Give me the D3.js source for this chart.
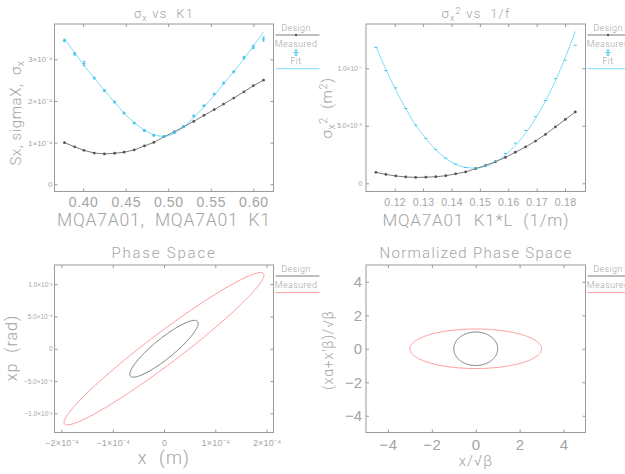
<!DOCTYPE html>
<html lang="en"><head>
<meta charset="utf-8"/>
<title>Quadrupole scan</title>
<script src="https://d3js.org/d3.v7.min.js"></script>
<style>
    body { margin: 0; padding: 0; width: 625px; height: 474px; background: #fff;
        font-family: Roboto, 'DejaVu Sans', sans-serif; }
    text { fill: #a4a4a4; font-weight: 300; }
    .tick line { stroke: #999; }
</style>
</head>
<body>
<div id="chart"></div>
<script>
    // ---- data ----
    // quadrupole strength scan (top panels)
    const k1 = [0.378, 0.390, 0.401, 0.413, 0.425, 0.437, 0.448, 0.460, 0.472, 0.483, 0.495,
                0.507, 0.518, 0.530, 0.542, 0.554, 0.565, 0.577, 0.589, 0.600, 0.612];
    const k1L = [0.1134, 0.1169, 0.1204, 0.1239, 0.1274, 0.1310, 0.1345, 0.1380, 0.1415, 0.1450, 0.1485,
                 0.1520, 0.1555, 0.1590, 0.1625, 0.1661, 0.1696, 0.1731, 0.1766, 0.1801, 0.1836];
    // sigma_x in units of 1e-4 m
    const sigDesign = [1.00, 0.90, 0.815, 0.75, 0.73, 0.745, 0.77, 0.825, 0.92, 1.005, 1.14,
                       1.26, 1.38, 1.51, 1.655, 1.79, 1.925, 2.07, 2.22, 2.365, 2.50];
    const sigMeasured = [3.45, 3.13, 2.90, 2.55, 2.25, 1.975, 1.71, 1.47, 1.29, 1.175, 1.145,
                         1.245, 1.385, 1.64, 1.885, 2.165, 2.43, 2.70, 3.04, 3.295, 3.485];
    const sigError = [0.03, 0.03, 0.05, 0.02, 0.02, 0.02, 0.02, 0.02, 0.02, 0.02, 0.02,
                      0.02, 0.02, 0.02, 0.02, 0.02, 0.02, 0.02, 0.03, 0.04, 0.05];
    const sigFit = [3.49, 3.16, 2.85, 2.55, 2.25, 1.97, 1.71, 1.48, 1.30, 1.19, 1.15,
                    1.22, 1.37, 1.60, 1.86, 2.13, 2.41, 2.70, 3.01, 3.32, 3.66];
    // sigma_x^2 in units of 1e-8 m^2
    const sig2Design = [0.95, 0.77, 0.64, 0.55, 0.51, 0.53, 0.57, 0.66, 0.82, 0.99, 1.27,
                        1.55, 1.88, 2.25, 2.70, 3.16, 3.67, 4.25, 4.90, 5.55, 6.20];
    const sig2Measured = [11.8, 9.8, 8.3, 6.5, 5.05, 3.9, 2.95, 2.2, 1.67, 1.38, 1.31,
                          1.55, 1.9, 2.6, 3.5, 4.6, 5.8, 7.2, 9.1, 10.7, 12.0];
    const sig2Fit = [11.9, 9.9, 8.1, 6.5, 5.05, 3.9, 2.9, 2.15, 1.65, 1.38, 1.32,
                     1.48, 1.85, 2.45, 3.3, 4.35, 5.65, 7.15, 8.9, 10.95, 13.2];

    // phase space ellipses: design, measured
    const emittance = [1.31e-8, 5.85e-8];
    const betaTwiss = [0.339, 0.65];
    const alphaTwiss = [-2.0, -3.8];
    // normalized phase space semi axes
    const normSemiX = [1.0, 3.0];
    const normSemiY = [1.0, 1.18];

    // tick values and labels
    const tlXTicks = [0.40, 0.45, 0.50, 0.55, 0.60];
    const tlXLabels = ["0.40", "0.45", "0.50", "0.55", "0.60"];
    const tlYTicks = [0, 1e-4, 2e-4, 3e-4];
    const tlYLabels = ["0", "1×10⁻⁴", "2×10⁻⁴", "3×10⁻⁴"];
    const trXTicks = [0.12, 0.13, 0.14, 0.15, 0.16, 0.17, 0.18];
    const trXLabels = ["0.12", "0.13", "0.14", "0.15", "0.16", "0.17", "0.18"];
    const trYTicks = [0, 5e-8, 1e-7];
    const trYLabels = ["0", "5.0×10⁻⁸", "1.0×10⁻⁷"];
    const blXTicks = [-2e-4, -1e-4, 0, 1e-4, 2e-4];
    const blXLabels = ["−2×10⁻⁴", "−1×10⁻⁴", "0", "1×10⁻⁴", "2×10⁻⁴"];
    const blYTicks = [-1e-3, -5e-4, 0, 5e-4, 1e-3];
    const blYLabels = ["−1.0×10⁻³", "−5.0×10⁻⁴", "0", "5.0×10⁻⁴", "1.0×10⁻³"];
    const brTicks = [-4, -2, 0, 2, 4];
    const brLabels = ["−4", "−2", "0", "2", "4"];

    // ---- colours ----
    const FRAME = "#9a9a9a";
    const CYAN = "#7ddcfa";
    const CYAN_PT = "#3fc3ee";
    const DESIGN = "#7c7c7c";
    const DESIGN_PT = "#555";
    const RED = "#ff9d9d";

    const svg = d3.select("#chart").append("svg")
        .attr("width", 625).attr("height", 474);

    // text with sub/superscript parts: [string, shift(px, + is down), scale]
    function rich(x, y, parts, o) {
        const t = svg.append("text")
            .attr("x", x).attr("y", y)
            .attr("text-anchor", o.anchor || "middle")
            .style("font-size", o.size + "px")
            .style("letter-spacing", (o.ls || 0) + "px");
        if (o.rotate) t.attr("transform", `rotate(-90,${x},${y})`);
        let cur = 0;
        parts.forEach(p => {
            const sp = t.append("tspan").text(p[0]);
            const shift = p[1] || 0;
            if (shift !== cur) sp.attr("dy", shift - cur);
            if (p[2]) sp.style("font-size", (o.size * p[2]) + "px");
            cur = shift;
        });
        return t;
    }

    function panel(box, xDom, yDom, ax) {
        const x = d3.scaleLinear().domain(xDom).range([box.l, box.r]);
        const y = d3.scaleLinear().domain(yDom).range([box.b, box.t]);

        svg.append("rect")
            .attr("x", box.l).attr("y", box.t)
            .attr("width", box.r - box.l).attr("height", box.b - box.t)
            .attr("fill", "none").attr("stroke", FRAME);

        // bottom with labels
        const gb = svg.append("g").attr("transform", `translate(0,${box.b})`)
            .call(d3.axisBottom(x).tickValues(ax.xt).tickFormat((d, i) => ax.xl[i])
                .tickSizeInner(-3).tickSizeOuter(0));
        gb.select(".domain").remove();
        gb.selectAll("text").attr("y", ax.xBase).attr("dy", null)
            .attr("fill", null).style("font-size", ax.xFs + "px")
            .style("letter-spacing", (ax.xLs || 0) + "px");
        // top ticks
        const gt = svg.append("g").attr("transform", `translate(0,${box.t})`)
            .call(d3.axisTop(x).tickValues(ax.xt).tickFormat("").tickSizeInner(-3).tickSizeOuter(0));
        gt.select(".domain").remove();
        // left with labels
        const gl = svg.append("g").attr("transform", `translate(${box.l},0)`)
            .call(d3.axisLeft(y).tickValues(ax.yt).tickFormat((d, i) => ax.yl[i])
                .tickSizeInner(-3).tickSizeOuter(0));
        gl.select(".domain").remove();
        gl.selectAll("text").attr("x", -ax.yPad).attr("fill", null)
            .style("font-size", ax.yFs + "px");
        // right ticks
        const gr = svg.append("g").attr("transform", `translate(${box.r},0)`)
            .call(d3.axisRight(y).tickValues(ax.yt).tickFormat("").tickSizeInner(-3).tickSizeOuter(0));
        gr.select(".domain").remove();
        svg.selectAll(".tick line").attr("stroke", FRAME);
        return { x, y };
    }

    function legend(box, items) {
        const x0 = box.r + 2, x1 = box.r + 46, cx = box.r + 22.5;
        items.forEach((it, i) => {
            const top = box.t + i * 16.6;
            svg.append("text").attr("x", cx).attr("y", top + 6.5)
                .attr("text-anchor", "middle").style("font-size", "9px")
                .style("letter-spacing", "0.4px").text(it.label);
            const sy = top + 11;
            if (it.line) {
                svg.append("line").attr("x1", x0).attr("x2", x1)
                    .attr("y1", it.fit ? sy + 0.5 : sy).attr("y2", it.fit ? sy + 0.5 : sy)
                    .attr("stroke", it.line).attr("stroke-width", 1);
            }
            if (it.dot) {
                svg.append("circle").attr("cx", cx).attr("cy", sy).attr("r", 1.2).attr("fill", it.dot);
            }
            if (it.cross) {
                svg.append("path").attr("d", `M${cx - 2.5},${sy + 1}h5M${cx},${sy - 1.5}v5M${cx - 1.5},${sy - 1.5}h3M${cx - 1.5},${sy + 3.5}h3`)
                    .attr("stroke", it.cross).attr("fill", "none");
            }
        });
    }

    // ---- top left: sigma_x vs K1 ----
    const boxTL = { l: 54.5, r: 273.5, t: 24, b: 191.5 };
    const tl = panel(boxTL, [0.3663, 0.6237], [-0.173e-4, 3.847e-4],
        { xt: tlXTicks, xl: tlXLabels, xBase: 15, xFs: 14, xLs: 0.6,
          yt: tlYTicks, yl: tlYLabels, yFs: 8, yPad: 2 });
    const lineTL = d3.line().x(d => tl.x(d[0])).y(d => tl.y(d[1] * 1e-4));
    svg.append("path").datum(k1.map((k, i) => [k, sigFit[i]]))
        .attr("d", lineTL.curve(d3.curveMonotoneX)).attr("fill", "none").attr("stroke", CYAN);
    svg.append("path").datum(k1.map((k, i) => [k, sigDesign[i]]))
        .attr("d", lineTL.curve(d3.curveLinear)).attr("fill", "none").attr("stroke", DESIGN);
    svg.selectAll(".dtl").data(k1).enter().append("circle")
        .attr("cx", d => tl.x(d)).attr("cy", (d, i) => tl.y(sigDesign[i] * 1e-4))
        .attr("r", 1.4).attr("fill", DESIGN_PT);
    svg.selectAll(".mtl").data(k1).enter().append("path")
        .attr("d", (d, i) => {
            const cx = tl.x(d), cy = tl.y(sigMeasured[i] * 1e-4);
            const lo = tl.y((sigMeasured[i] - sigError[i]) * 1e-4), hi = tl.y((sigMeasured[i] + sigError[i]) * 1e-4);
            return `M${cx - 1.5},${cy}h3M${cx},${hi}V${lo}M${cx - 1.2},${hi}h2.4M${cx - 1.2},${lo}h2.4`;
        })
        .attr("stroke", CYAN_PT).attr("fill", "none");

    rich(164, 18, [["σ", 0], ["x", 3, 0.7], ["\u00a0vs\u00a0\u00a0K1", 0]], { size: 13, ls: 1.2 });
    rich(164, 226, [["MQA7A01,\u00a0\u00a0MQA7A01\u00a0\u00a0K1", 0]], { size: 17.5, ls: 0.8 });
    rich(21, 113, [["Sx,\u00a0sigmaX,\u00a0\u00a0σ", 0], ["x", 3, 0.7]], { size: 15, ls: 0.6, rotate: true });
    legend(boxTL, [
        { label: "Design", line: DESIGN, dot: DESIGN_PT },
        { label: "Measured", cross: CYAN_PT },
        { label: "Fit", line: CYAN, fit: true }
    ]);

    // ---- top right: sigma_x^2 vs 1/f ----
    const boxTR = { l: 366, r: 585.5, t: 24, b: 191.5 };
    const tr = panel(boxTR, [0.1099, 0.1872], [-0.713e-8, 1.385e-7],
        { xt: trXTicks, xl: trXLabels, xBase: 14, xFs: 10.5, xLs: 0.3,
          yt: trYTicks, yl: trYLabels, yFs: 6.5, yPad: 4 });
    const lineTR = d3.line().x(d => tr.x(d[0])).y(d => tr.y(d[1] * 1e-8));
    svg.append("path").datum(k1L.map((k, i) => [k, sig2Fit[i]]))
        .attr("d", lineTR.curve(d3.curveMonotoneX)).attr("fill", "none").attr("stroke", CYAN);
    svg.append("path").datum(k1L.map((k, i) => [k, sig2Design[i]]))
        .attr("d", lineTR.curve(d3.curveLinear)).attr("fill", "none").attr("stroke", DESIGN);
    svg.selectAll(".dtr").data(k1L).enter().append("circle")
        .attr("cx", d => tr.x(d)).attr("cy", (d, i) => tr.y(sig2Design[i] * 1e-8))
        .attr("r", 1.4).attr("fill", DESIGN_PT);
    svg.selectAll(".mtr").data(k1L).enter().append("path")
        .attr("d", (d, i) => `M${tr.x(d) - 1.5},${tr.y(sig2Measured[i] * 1e-8)}h3`)
        .attr("stroke", CYAN_PT).attr("fill", "none");

    rich(476, 18, [["σ", 0], ["x", 3, 0.7], ["2", -4, 0.7], ["\u00a0vs\u00a0\u00a01/f", 0]], { size: 13, ls: 1.2 });
    rich(476, 226, [["MQA7A01\u00a0\u00a0K1*L\u00a0\u00a0(1/m)", 0]], { size: 17, ls: 0.8 });
    rich(332, 108, [["σ", 0], ["x", 3, 0.7], ["2", -5, 0.7], ["\u00a0\u00a0(m", 0], ["2", -5, 0.7], [")", 0]],
        { size: 15, ls: 0.6, rotate: true });
    legend(boxTR, [
        { label: "Design", line: DESIGN, dot: DESIGN_PT },
        { label: "Measured", cross: CYAN_PT },
        { label: "Fit", line: CYAN, fit: true }
    ]);

    // ---- bottom left: phase space ----
    const boxBL = { l: 54.5, r: 273.5, t: 265, b: 432.5 };
    const bl = panel(boxBL, [-2.135e-4, 2.135e-4], [-1.296e-3, 1.296e-3],
        { xt: blXTicks, xl: blXLabels, xBase: 13.5, xFs: 9, xLs: 0.2,
          yt: blYTicks, yl: blYLabels, yFs: 6.5, yPad: 2 });
    const tSteps = d3.range(0, 181).map(i => i * 2 * Math.PI / 180);
    [0, 1].forEach(j => {
        const e = emittance[j], b = betaTwiss[j], a = alphaTwiss[j];
        const pts = tSteps.map(t => [Math.sqrt(e * b) * Math.cos(t),
                                     -Math.sqrt(e / b) * (a * Math.cos(t) + Math.sin(t))]);
        svg.append("path").datum(pts)
            .attr("d", d3.line().x(d => bl.x(d[0])).y(d => bl.y(d[1])))
            .attr("fill", "none").attr("stroke", j === 0 ? DESIGN : RED);
    });
    rich(164, 258, [["Phase\u00a0Space", 0]], { size: 15, ls: 1.8 });
    rich(164, 464, [["x\u00a0\u00a0(m)", 0]], { size: 18, ls: 1.2 });
    rich(17, 348, [["xp\u00a0\u00a0(rad)", 0]], { size: 16, ls: 1 , rotate: true });
    legend(boxBL, [
        { label: "Design", line: DESIGN },
        { label: "Measured", line: RED }
    ]);

    // ---- bottom right: normalized phase space ----
    const boxBR = { l: 366, r: 585.5, t: 265, b: 432.5 };
    const br = panel(boxBR, [-5, 5], [-5, 5],
        { xt: brTicks, xl: brLabels, xBase: 17.5, xFs: 15, xLs: 0.5,
          yt: brTicks, yl: brLabels, yFs: 15, yPad: 4 });
    [0, 1].forEach(j => {
        const pts = tSteps.map(t => [normSemiX[j] * Math.cos(t), normSemiY[j] * Math.sin(t)]);
        svg.append("path").datum(pts)
            .attr("d", d3.line().x(d => br.x(d[0])).y(d => br.y(d[1])))
            .attr("fill", "none").attr("stroke", j === 0 ? DESIGN : RED);
    });
    rich(476, 258, [["Normalized\u00a0Phase\u00a0Space", 0]], { size: 15, ls: 1.3 });
    rich(476, 466, [["x/√β", 0]], { size: 15, ls: 1 });
    rich(333, 350, [["(xα+x′β)/√β", 0]], { size: 14, ls: 0.8, rotate: true });
    legend(boxBR, [
        { label: "Design", line: DESIGN },
        { label: "Measured", line: RED }
    ]);
</script>
</body></html>
